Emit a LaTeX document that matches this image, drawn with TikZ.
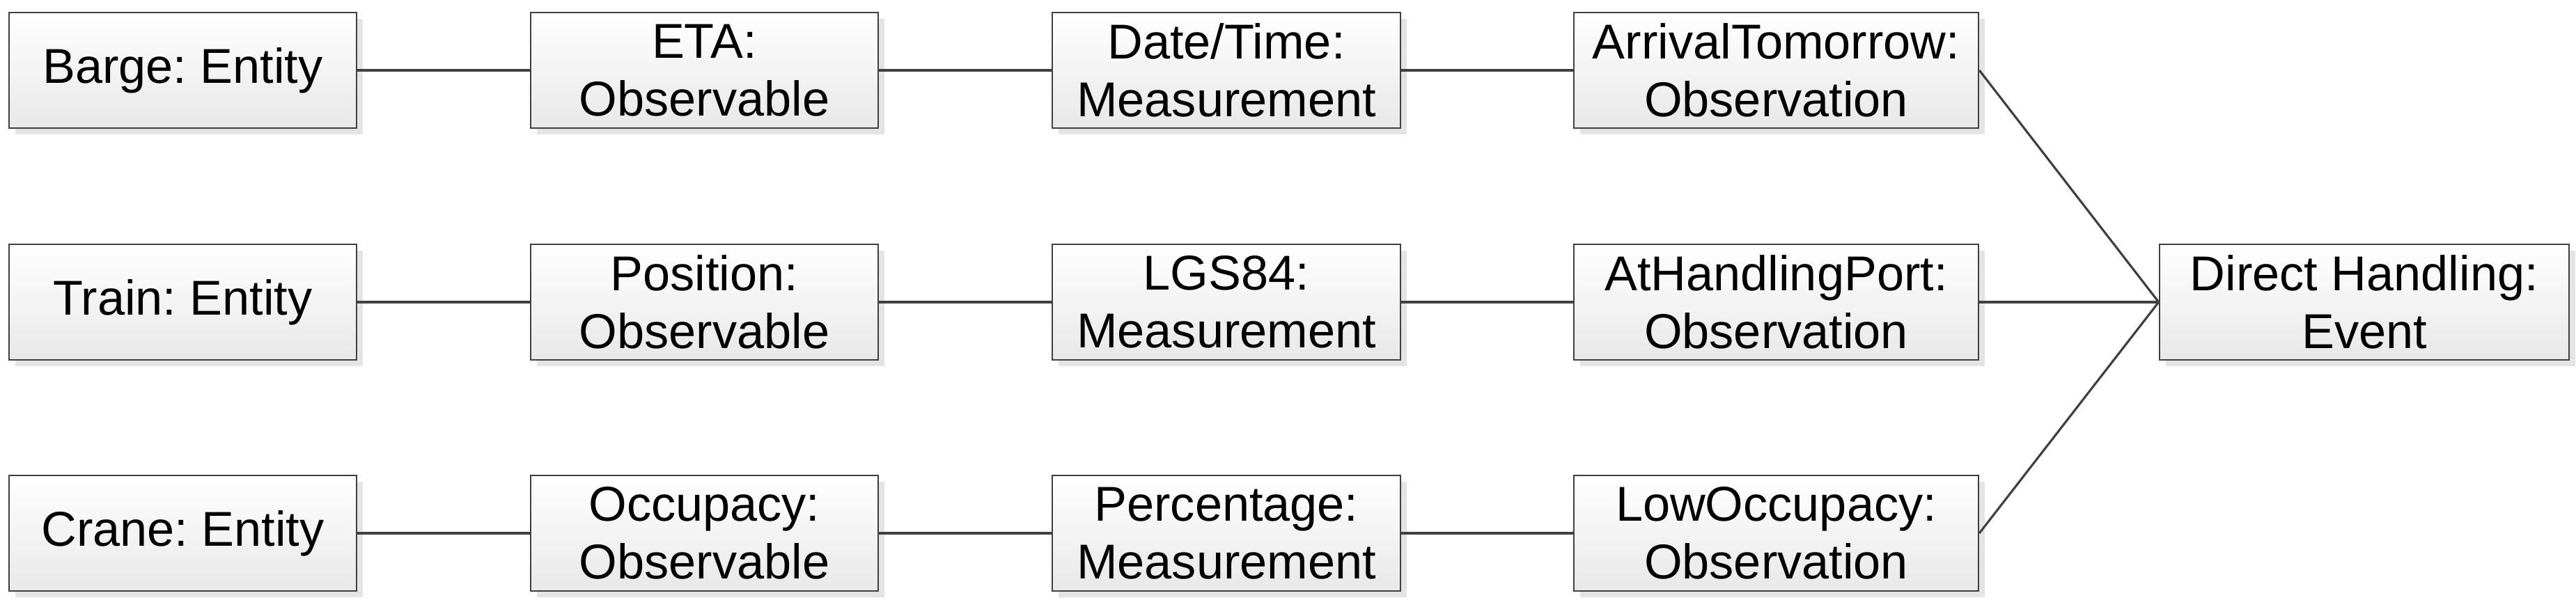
\documentclass[tikz,border=0pt]{standalone}
\usepackage[rgb]{xcolor}
\usepackage{fontspec}
\setmainfont{Liberation Sans}
\usepackage{tikz}
\usetikzlibrary{shadows}
\frenchspacing

\definecolor{edgegray}{RGB}{64,64,64}
\definecolor{shadowgray}{RGB}{228,228,230}

\begin{document}
\begin{tikzpicture}[scale=1,
  objbox/.style={draw=edgegray, line width=0.7pt, top color=white, bottom color=black!9,
    minimum width=4.99cm, minimum height=1.66cm, inner sep=0pt, align=center,
    font=\fontsize{20}{23.5}\selectfont,
    drop shadow={shadow xshift=0.09cm, shadow yshift=-0.09cm, fill=shadowgray, opacity=1}},
  link/.style={edgegray, line width=1.1pt},
  slant/.style={edgegray, line width=0.9pt}]

\useasboundingbox (0,0) rectangle (36.99,8.72);

%% first row
\path
(2.625,7.71) node[objbox](barge) {Barge: Entity}
(10.115,7.71) node[objbox](eta) {ETA:\\Observable}
(17.61,7.71) node[objbox, minimum width=5cm](datetime) {Date/Time:\\Measurement}
(25.505,7.71) node[objbox, minimum width=5.81cm](arrival) {ArrivalTomorrow:\\Observation};

%% second row
\path
(2.625,4.38) node[objbox](train) {Train: Entity}
(10.115,4.38) node[objbox](position) {Position:\\Observable}
(17.61,4.38) node[objbox, minimum width=5cm](lgs) {LGS84:\\Measurement}
(25.505,4.38) node[objbox, minimum width=5.81cm](athandling) {AtHandlingPort:\\Observation};

%% third row
\path
(2.625,1.06) node[objbox](crane) {Crane: Entity}
(10.115,1.06) node[objbox](occupancy) {Occupacy:\\Observable}
(17.61,1.06) node[objbox, minimum width=5cm](percentage) {Percentage:\\Measurement}
(25.505,1.06) node[objbox, minimum width=5.81cm](lowocc) {LowOccupacy:\\Observation};

%% the event
\path
(33.95,4.38) node[objbox, minimum width=5.88cm](direct) {Direct Handling:\\Event};

%% links along the rows
\draw[link] (barge) -- (eta);
\draw[link] (eta) -- (datetime);
\draw[link] (datetime) -- (arrival);
\draw[link] (train) -- (position);
\draw[link] (position) -- (lgs);
\draw[link] (lgs) -- (athandling);
\draw[link] (crane) -- (occupancy);
\draw[link] (occupancy) -- (percentage);
\draw[link] (percentage) -- (lowocc);

%% links to the event
\draw[slant] (arrival.east) -- (direct.west);
\draw[link] (athandling) -- (direct);
\draw[slant] (lowocc.east) -- (direct.west);

\end{tikzpicture}
\end{document}
